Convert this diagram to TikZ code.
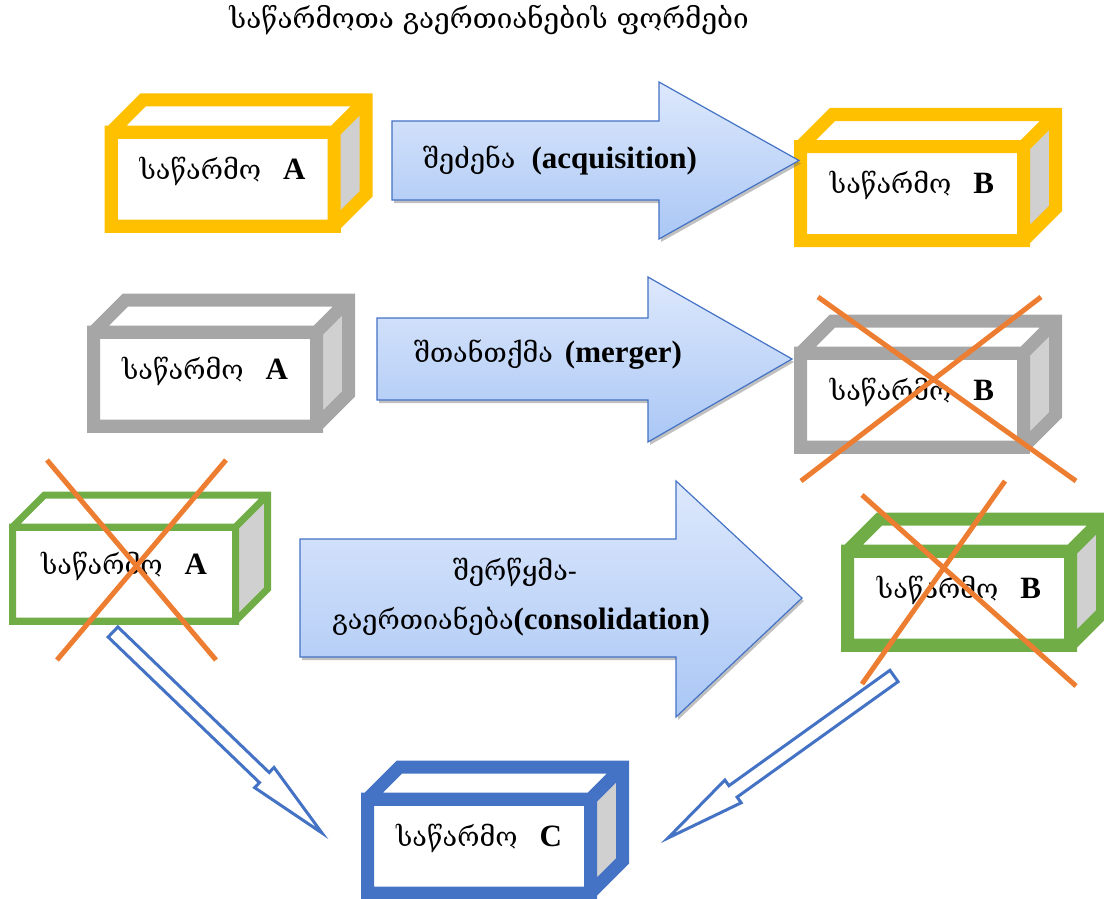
\documentclass[tikz,border=0pt]{standalone}
\usepackage{fontspec}
\setmainfont{Liberation Serif}
\newfontfamily\geo[Scale=0.87]{DejaVu Serif}
\usetikzlibrary{calc,shadows}
\definecolor{boxyellow}{HTML}{FFC000}
\definecolor{boxgray}{HTML}{A6A6A6}
\definecolor{boxgreen}{HTML}{70AD47}
\definecolor{boxblue}{HTML}{4472C4}
\definecolor{crossorange}{HTML}{ED7D31}
\definecolor{sidegray}{HTML}{D0D0D0}
\definecolor{arrtop}{RGB}{221,232,252}
\definecolor{arrbot}{RGB}{170,199,245}
\newcommand{\lblfont}{\fontsize{31}{37}\selectfont}
\newcommand{\ttlfont}{\fontsize{32}{38}\selectfont}
\begin{document}
\begin{tikzpicture}[x=1pt,y=-1pt,firm/.style={shape=rectangle,fill=white,minimum width=223pt,minimum height=94pt,inner sep=0pt,outer sep=0pt,text height=0pt,text depth=0pt,font=\lblfont},firmY/.style={firm,draw=boxyellow,line width=13pt},firmG/.style={firm,draw=boxgray,line width=13pt},firmN/.style={firm,draw=boxgreen,line width=13pt},firmNt/.style={firm,draw=boxgreen,line width=7pt},firmB/.style={firm,draw=boxblue,line width=13pt},bigarrow/.style={draw=boxblue,line width=1.2pt,top color=arrtop,bottom color=arrbot,drop shadow={shadow xshift=2pt,shadow yshift=-3pt,opacity=0.45,fill=black!55}},arrtext/.style={anchor=base,font=\lblfont,inner sep=0pt},cross/.style={draw=crossorange,line width=5pt},hollow/.style={draw=boxblue,line width=3pt,fill=white,line join=miter}]
\def\dd{32};
\def\faces#1#2#3{%
\fill[white] (#1.north west) -- ++(\dd,-\dd) -- ([shift={(\dd,-\dd)}]#1.north east) -- (#1.north east) -- cycle;
\fill[sidegray] (#1.north east) -- ++(\dd,-\dd) -- ([shift={(\dd,-\dd)}]#1.south east) -- (#1.south east) -- cycle;
\draw[draw=#2,line width=#3,line join=miter] (#1.south west) -- (#1.north west) -- ++(\dd,-\dd) -- ([shift={(\dd,-\dd)}]#1.north east) -- ([shift={(\dd,-\dd)}]#1.south east) -- (#1.south east) -- cycle (#1.south west) rectangle (#1.north east) (#1.north east) -- ++(\dd,-\dd);}

\useasboundingbox (0,0) rectangle (1104,899);

\node[anchor=base,font=\ttlfont\geo,inner sep=0pt] (title) at (489,29) {საწარმოთა გაერთიანების ფორმები};

% row 1
\node[firmY] (A1) at (222.5,179) {{\geo საწარმო}\hspace{22pt}\textbf{A}};
\faces{A1}{boxyellow}{13pt}
\node[firmY] (B1) at (912,193.5) {{\geo საწარმო}\hspace{22pt}\textbf{B}};
\faces{B1}{boxyellow}{13pt}

% row 2
\node[firmG] (A2) at (205,379) {{\geo საწარმო}\hspace{22pt}\textbf{A}};
\faces{A2}{boxgray}{13pt}
\node[firmG] (B2) at (912,400) {{\geo საწარმო}\hspace{22pt}\textbf{B}};
\faces{B2}{boxgray}{13pt}

% row 3
\node[firmNt] (A3) at (124,574) {{\geo საწარმო}\hspace{22pt}\textbf{A}};
\faces{A3}{boxgreen}{7pt}
\node[firmN] (B3) at (959,598) {{\geo საწარმო}\hspace{22pt}\textbf{B}};
\faces{B3}{boxgreen}{13pt}

% result
\node[firmB] (C) at (479,846) {{\geo საწარმო}\hspace{22pt}\textbf{C}};
\faces{C}{boxblue}{13pt}

% block arrows
\draw[bigarrow] (392,121) -- (659,121) -- (659,82) -- (799,160.5) -- (659,239) -- (659,200) -- (392,200) -- cycle;
\node[arrtext] (acq) at (560,168) {{\geo შეძენა}\hspace{16pt}\textbf{(acquisition)}};
\draw[bigarrow] (377,318) -- (648,318) -- (648,277) -- (792,359) -- (648,442) -- (648,400) -- (377,400) -- cycle;
\node[arrtext] (mrg) at (548,362) {{\geo შთანთქმა}\hspace{12pt}\textbf{(merger)}};
\draw[bigarrow] (300,539) -- (676,539) -- (676,481) -- (802,598) -- (676,717) -- (676,657) -- (300,657) -- cycle;
\node[arrtext] (cns1) at (515,580) {{\geo შერწყმა-}};
\node[arrtext] (cns2) at (521,629) {{\geo გაერთიანება}\textbf{(consolidation)}};

% crosses
\coordinate (xB2a) at (818,297); \coordinate (xB2b) at (1076,481);
\coordinate (xB2c) at (1041,297); \coordinate (xB2d) at (801,481);
\draw[cross] (xB2a) -- (xB2b);
\draw[cross] (xB2c) -- (xB2d);
\coordinate (xA3a) at (47,460); \coordinate (xA3b) at (216,660);
\coordinate (xA3c) at (226,460); \coordinate (xA3d) at (57,660);
\draw[cross] (xA3a) -- (xA3b);
\draw[cross] (xA3c) -- (xA3d);
\coordinate (xB3a) at (862,495); \coordinate (xB3b) at (1076,686);
\coordinate (xB3c) at (1005,481); \coordinate (xB3d) at (862,684);
\draw[cross] (xB3a) -- (xB3b);
\draw[cross] (xB3c) -- (xB3d);

% hollow arrows to C
\coordinate (hA) at (113,632); \coordinate (hAt) at (322,833);
\coordinate (hAb) at ($(hAt)!80pt!(hA)$);
\draw[hollow] ($(hA)!7pt!90:(hAt)$) -- ($(hAb)!7pt!-90:(hA)$) -- ($(hAb)!14pt!-90:(hA)$) -- (hAt) -- ($(hAb)!14pt!90:(hA)$) -- ($(hAb)!7pt!90:(hA)$) -- ($(hA)!7pt!-90:(hAt)$) -- cycle;
\coordinate (hB) at (894,676); \coordinate (hBt) at (668,838);
\coordinate (hBb) at ($(hBt)!80pt!(hB)$);
\draw[hollow] ($(hB)!7pt!90:(hBt)$) -- ($(hBb)!7pt!-90:(hB)$) -- ($(hBb)!14pt!-90:(hB)$) -- (hBt) -- ($(hBb)!14pt!90:(hB)$) -- ($(hBb)!7pt!90:(hB)$) -- ($(hB)!7pt!-90:(hBt)$) -- cycle;
\end{tikzpicture}
\end{document}
